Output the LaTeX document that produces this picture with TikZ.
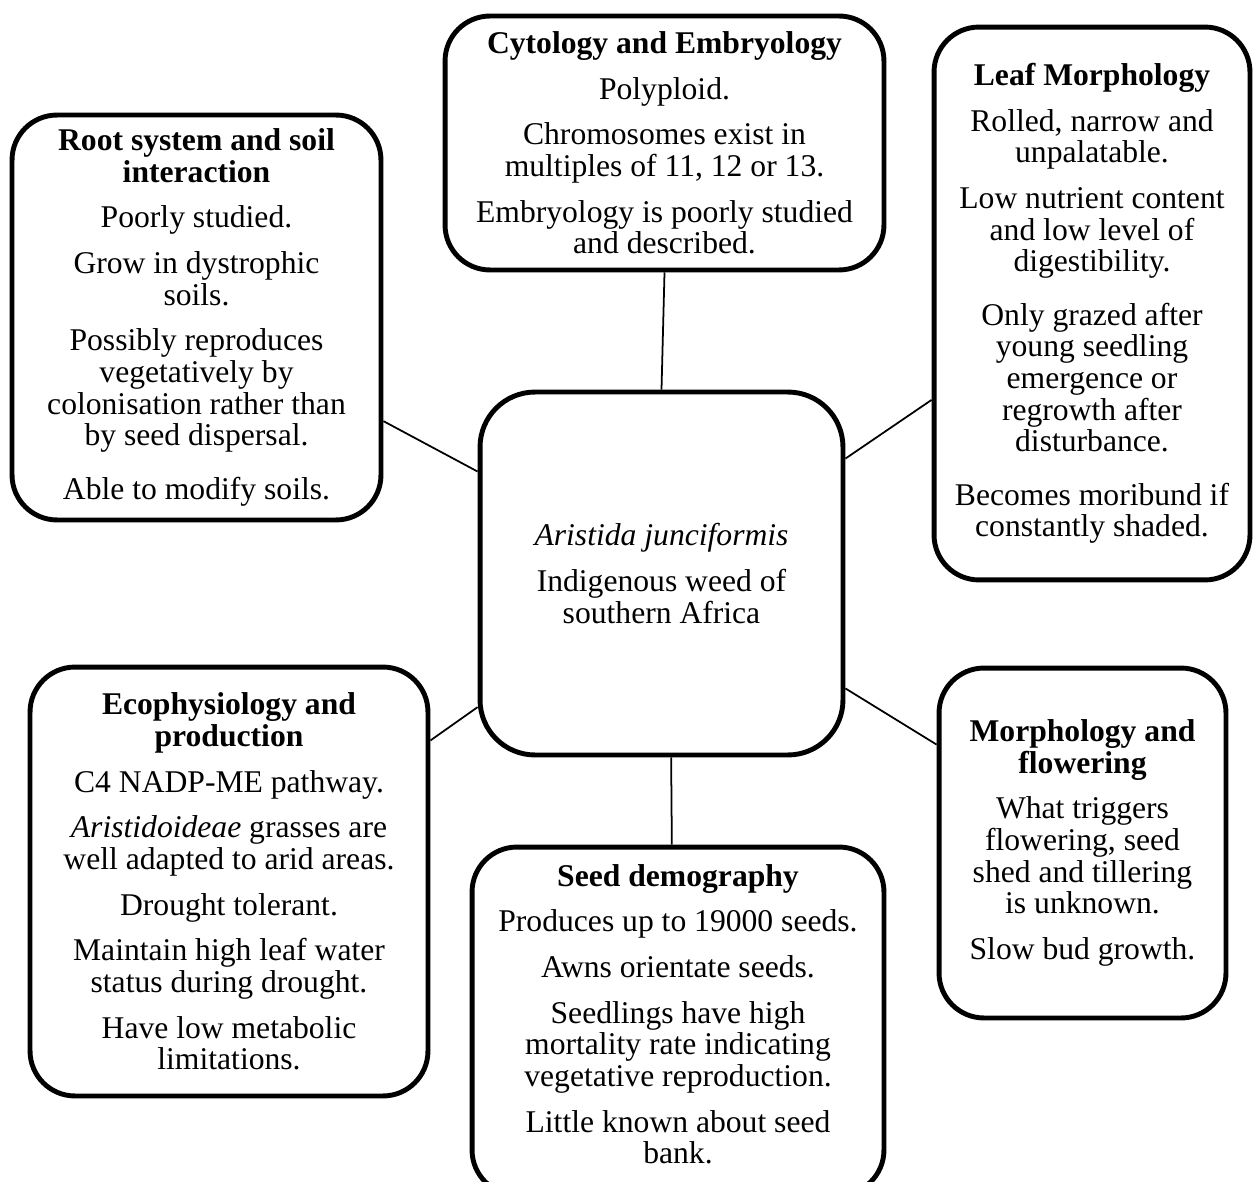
\documentclass[tikz,border=0pt]{standalone}
\usepackage{fontspec}
\setmainfont{Liberation Serif}
\newcommand{\gapline}{\\[8pt]}
\newcommand{\widegap}{\\[12.5pt]}
\tikzset{
  topic/.style={draw=black, line width=2.8pt, rounded corners=0.9cm, align=center,
    font=\fontsize{18}{18}\selectfont, inner sep=2pt},
  link/.style={draw=black, line width=1pt}
}
\begin{document}
\begin{tikzpicture}[x=0.02cm, y=-0.02cm]
\useasboundingbox (0,0) rectangle (1253,1182);
\node[topic, minimum width=8.78cm, minimum height=5.08cm] (cyto) at (664.5,143) {\textbf{Cytology and Embryology}\gapline Polyploid.\gapline Chromosomes exist in\\multiples of 11, 12 or 13.\gapline Embryology is poorly studied\\and described.};
\node[topic, minimum width=6.32cm, minimum height=11.06cm] (leaf) at (1092,303.5) {\textbf{Leaf Morphology}\gapline Rolled, narrow and\\unpalatable.\gapline Low nutrient content\\and low level of\\digestibility.\widegap Only grazed after\\young seedling\\emergence or\\regrowth after\\disturbance.\widegap Becomes moribund if\\constantly shaded.};
\node[topic, minimum width=7.38cm, minimum height=8.1cm] (root) at (196.5,317.5) {\textbf{Root system and soil}\\\textbf{interaction}\gapline Poorly studied.\gapline Grow in dystrophic\\soils.\gapline Possibly reproduces\\vegetatively by\\colonisation rather than\\by seed dispersal.\widegap Able to modify soils.};
\node[topic, rounded corners=1.1cm, minimum width=7.26cm, minimum height=7.26cm] (centre) at (661.5,573.5) {\textit{Aristida junciformis}\gapline Indigenous weed of\\southern Africa};
\node[topic, minimum width=7.96cm, minimum height=8.58cm] (eco) at (229,881.5) {\textbf{Ecophysiology and}\\\textbf{production}\gapline C4 NADP-ME pathway.\gapline \textit{Aristidoideae} grasses are\\well adapted to arid areas.\gapline Drought tolerant.\gapline Maintain high leaf water\\status during drought.\gapline Have low metabolic\\limitations.};
\node[topic, minimum width=8.24cm, minimum height=6.96cm] (seed) at (678,1021) {\textbf{Seed demography}\gapline Produces up to 19000 seeds.\gapline Awns orientate seeds.\gapline Seedlings have high\\mortality rate indicating\\vegetative reproduction.\gapline Little known about seed\\bank.\\[-10pt]\mbox{}};
\node[topic, minimum width=5.74cm, minimum height=7cm] (morph) at (1082.5,843) {\textbf{Morphology and}\\\textbf{flowering}\gapline What triggers\\flowering, seed\\shed and tillering\\is unknown.\gapline Slow bud growth.};

\draw[link] (cyto.south) -- (centre.north);
\draw[link] (leaf.211) -- (centre.32);
\draw[link] (root.331) -- (centre.151);
\draw[link] (eco.35) -- (centre.216);
\draw[link] (seed.92) -- (centre.273);
\draw[link] (morph.146) -- (centre.328);
\end{tikzpicture}
\end{document}
